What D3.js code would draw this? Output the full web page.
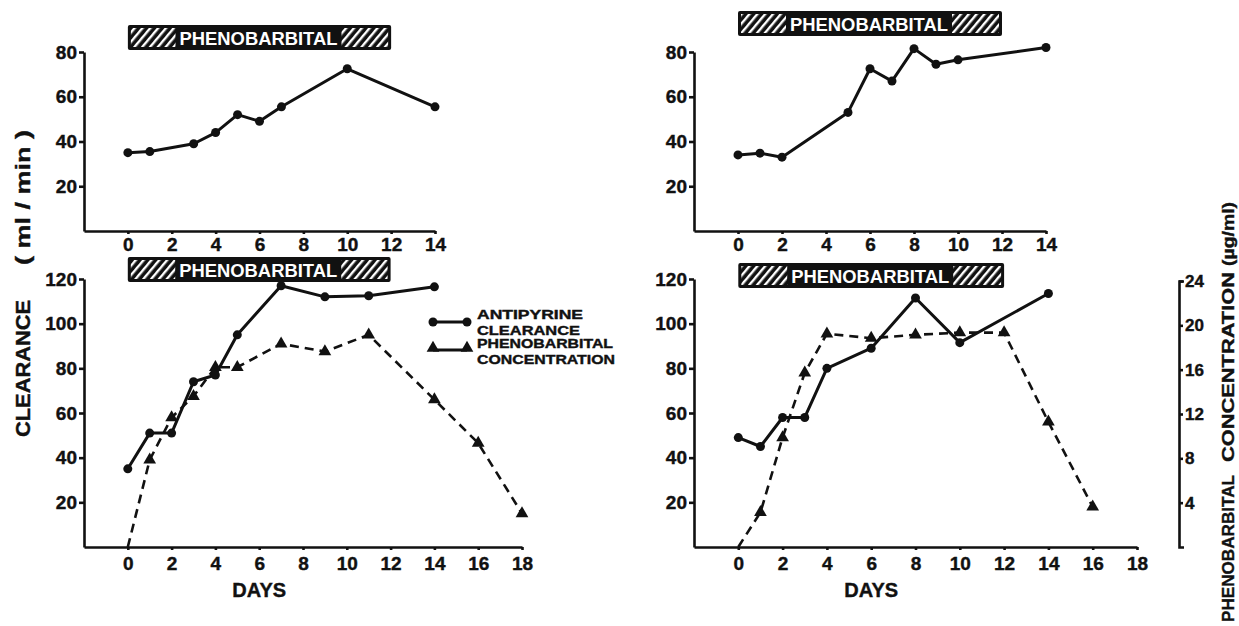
<!DOCTYPE html>
<html>
<head>
<meta charset="utf-8">
<script src="https://cdn.jsdelivr.net/npm/d3@7"></script>
<style>
  body { margin: 0; background: #fff; }
  text { font-family: "Liberation Sans", Arial, sans-serif; font-weight: bold; fill: #111; stroke: #111; stroke-width: 0.4; }
  .axis path, .axis line { stroke: #111; stroke-width: 2.6; }
  .axis text { font-family: "Liberation Sans", Arial, sans-serif; font-weight: bold; font-size: 19px; fill: #111; stroke: #111; stroke-width: 0.4; }
</style>
</head>
<body>
<svg id="fig" width="1239" height="626"></svg>
<script>
// days on phenobarbital (hatched bar)
var phenoPeriod = [0, 12];

// top left: antipyrine clearance (ml/min)
var tlDays  = [0, 1, 3, 4, 5, 6, 7, 10, 14];
var tlClear = [35, 35.5, 39, 44, 52, 49, 55.5, 72.5, 55.5];

// top right
var trDays  = [0, 1, 2, 5, 6, 7, 8, 9, 10, 14];
var trClear = [34, 34.8, 33, 53, 72.5, 67, 81.5, 74.5, 76.5, 82];

// bottom left
var blDays  = [0, 1, 2, 3, 4, 5, 7, 9, 11, 14];
var blClear = [35, 51, 51, 74, 77, 95, 117, 112, 112.5, 116.5];
var blConcDays = [0, 1, 2, 3, 4, 5, 7, 9, 11, 14, 16, 18];
var blConc     = [0, 7.8, 11.6, 13.5, 16.1, 16.1, 18.2, 17.5, 19, 13.2, 9.3, 3];

// bottom right
var brDays  = [0, 1, 2, 3, 4, 6, 8, 10, 14];
var brClear = [49, 45, 58, 58, 80, 89, 111.5, 91.5, 113.5];
var brConcDays = [0, 1, 2, 3, 4, 6, 8, 10, 12, 14, 16];
var brConc     = [0, 3.1, 9.8, 15.6, 19.1, 18.7, 19, 19.2, 19.2, 11.2, 3.6];

var topXTicks = [0, 2, 4, 6, 8, 10, 12, 14],
    botXTicks = [0, 2, 4, 6, 8, 10, 12, 14, 16, 18],
    topYTicks = [20, 40, 60, 80],
    botYTicks = [20, 40, 60, 80, 100, 120],
    concTicks = [4, 8, 12, 16, 20, 24];

var svg = d3.select("#fig");

// hatch for the phenobarbital bar
svg.append("defs").append("pattern")
    .attr("id", "hatch")
    .attr("patternUnits", "userSpaceOnUse")
    .attr("width", 6).attr("height", 10)
    .attr("patternTransform", "rotate(40)")
  .append("rect")
    .attr("width", 2.4).attr("height", 10)
    .attr("fill", "#fff");

var panels = [
  {xr: [84, 435],  yr: [231, 52],  xd: [-2, 14], yd: [0, 80],  xt: topXTicks, yt: topYTicks, pad: 4, barY: 25,  clear: [tlDays, tlClear]},
  {xr: [694, 1046], yr: [231, 52], xd: [-2, 14], yd: [0, 80],  xt: topXTicks, yt: topYTicks, pad: 4, barY: 11,  clear: [trDays, trClear]},
  {xr: [84, 522],  yr: [547, 279], xd: [-2, 18], yd: [0, 120], xt: botXTicks, yt: botYTicks, pad: 7, barY: 257, clear: [blDays, blClear], conc: [blConcDays, blConc]},
  {xr: [694, 1137], yr: [547, 279], xd: [-2, 18], yd: [0, 120], xt: botXTicks, yt: botYTicks, pad: 7, barY: 263, clear: [brDays, brClear], conc: [brConcDays, brConc]}
];

panels.forEach(function(p) {
  var x = d3.scaleLinear().domain(p.xd).range(p.xr),
      y = d3.scaleLinear().domain(p.yd).range(p.yr);
  var concY = d3.scaleLinear().domain([0, 24]).range(p.yr);

  svg.append("g")
      .attr("class", "axis")
      .attr("transform", "translate(0," + p.yr[0] + ")")
      .call(d3.axisBottom(x).tickValues(p.xt).tickSize(3).tickSizeOuter(0).tickPadding(p.pad));

  svg.append("g")
      .attr("class", "axis")
      .attr("transform", "translate(" + p.xr[0] + ",0)")
      .call(d3.axisLeft(y).tickValues(p.yt).tickSize(5).tickSizeOuter(0).tickPadding(2));

  // phenobarbital bar
  var bx = x(phenoPeriod[0]), bw = x(phenoPeriod[1]) - x(phenoPeriod[0]);
  var bar = svg.append("g");
  bar.append("rect")
      .attr("x", bx).attr("y", p.barY).attr("width", bw).attr("height", 25)
      .attr("rx", 2).attr("fill", "#111");
  bar.append("rect")
      .attr("x", bx + 3).attr("y", p.barY + 3).attr("width", bw - 6).attr("height", 19)
      .attr("fill", "url(#hatch)");
  bar.append("rect")
      .attr("x", bx + bw / 2 - 84).attr("y", p.barY + 2).attr("width", 166).attr("height", 21)
      .attr("fill", "#111");
  bar.append("text")
      .attr("x", bx + bw / 2 - 1).attr("y", p.barY + 20)
      .attr("text-anchor", "middle")
      .attr("textLength", 158).attr("lengthAdjust", "spacingAndGlyphs")
      .style("font-size", "19px").style("fill", "#fff").style("stroke", "none")
      .text("PHENOBARBITAL");

  var line = d3.line().x(function(d) { return x(d[0]); });

  if (p.conc) {
    var cd = d3.zip(p.conc[0], p.conc[1]);
    svg.append("path")
        .datum(cd)
        .attr("fill", "none").attr("stroke", "#111")
        .attr("stroke-width", 2.6).attr("stroke-dasharray", "9,6")
        .attr("d", line.y(function(d) { return concY(d[1]); }));
    svg.selectAll(null)
        .data(cd.filter(function(d) { return d[1] > 0; }))
      .enter().append("path")
        .attr("transform", function(d) { return "translate(" + x(d[0]) + "," + concY(d[1]) + ")"; })
        .attr("d", d3.symbol(d3.symbolTriangle).size(70))
        .attr("fill", "#111");
  }

  var pts = d3.zip(p.clear[0], p.clear[1]);
  svg.append("path")
      .datum(pts)
      .attr("fill", "none").attr("stroke", "#111")
      .attr("stroke-width", 3).attr("stroke-linejoin", "round")
      .attr("d", line.y(function(d) { return y(d[1]); }));
  svg.selectAll(null)
      .data(pts)
    .enter().append("circle")
      .attr("cx", function(d) { return x(d[0]); })
      .attr("cy", function(d) { return y(d[1]); })
      .attr("r", 4.5)
      .attr("fill", "#111");

  if (p.conc) {
    svg.append("text")
        .attr("x", (x(4) + x(8)) / 2).attr("y", 597)
        .attr("text-anchor", "middle")
        .style("font-size", "20px")
        .text("DAYS");
  }
});

// right-hand concentration axis
var concScale = d3.scaleLinear().domain([0, 24]).range([547, 281]);
svg.append("g")
    .attr("class", "axis")
    .attr("transform", "translate(1179,0)")
    .call(d3.axisRight(concScale).tickValues(concTicks).tickSize(4).tickSizeOuter(5).tickPadding(2))
  .selectAll("text")
    .style("font-size", "17px");

// legend
var legend = svg.append("g");
legend.append("line")
    .attr("x1", 433).attr("x2", 467).attr("y1", 322).attr("y2", 322)
    .attr("stroke", "#111").attr("stroke-width", 3);
legend.selectAll(null).data([433, 467]).enter().append("circle")
    .attr("cx", function(d) { return d; }).attr("cy", 322).attr("r", 4.5).attr("fill", "#111");
legend.append("line")
    .attr("x1", 433).attr("x2", 467).attr("y1", 350).attr("y2", 350)
    .attr("stroke", "#111").attr("stroke-width", 3);
legend.selectAll(null).data([433, 467]).enter().append("path")
    .attr("transform", function(d) { return "translate(" + d + ",348)"; })
    .attr("d", d3.symbol(d3.symbolTriangle).size(70))
    .attr("fill", "#111");

[["ANTIPYRINE", 319, 106], ["CLEARANCE", 334.5, 103], ["PHENOBARBITAL", 348, 136], ["CONCENTRATION", 363.5, 138]]
  .forEach(function(t) {
    legend.append("text")
        .attr("x", 477).attr("y", t[1])
        .attr("textLength", t[2]).attr("lengthAdjust", "spacingAndGlyphs")
        .style("font-size", "13px")
        .text(t[0]);
  });

// axis titles
function vtext(x, y, len, size, str) {
  svg.append("text")
      .attr("transform", "translate(" + x + "," + y + ") rotate(-90)")
      .attr("textLength", len).attr("lengthAdjust", "spacingAndGlyphs")
      .style("font-size", size + "px")
      .text(str);
}
vtext(30, 437, 137, 21, "CLEARANCE");
vtext(30, 265, 135, 21, "( ml / min )");
vtext(1234, 622, 147, 17, "PHENOBARBITAL");
vtext(1234, 462, 190, 17, "CONCENTRATION");
vtext(1234, 266, 64, 17, "(µg/ml)");
</script>
</body>
</html>
